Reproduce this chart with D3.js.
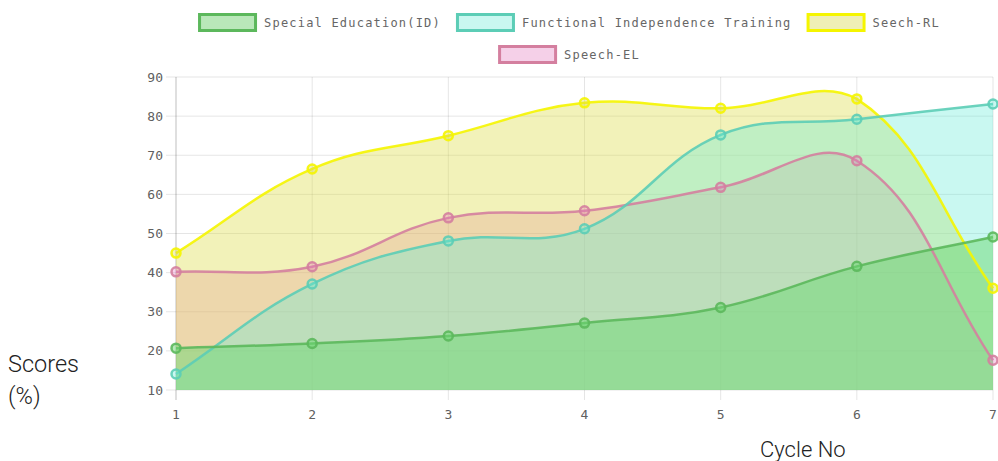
<!DOCTYPE html>
<html>
<head>
<meta charset="utf-8">
<script src="https://cdn.jsdelivr.net/npm/d3@7"></script>
<style>
  body { margin: 0; background: #fff; }
  svg { display: block; }
</style>
</head>
<body>
<div id="chart"></div>
<script>
var cycles = [1, 2, 3, 4, 5, 6, 7];
var yTicks = [10, 20, 30, 40, 50, 60, 70, 80, 90];

var specialEd = [20.7, 21.9, 23.8, 27.1, 31.1, 41.6, 49.1];
var functionalTraining = [14.1, 37.1, 48.1, 51.2, 75.2, 79.2, 83.1];
var speechRL = [45.0, 66.5, 75.0, 83.4, 82.0, 84.4, 36.0];
var speechEL = [40.2, 41.5, 54.0, 55.8, 61.8, 68.6, 17.6];

var seriesNames = ["Special Education(ID)", "Functional Independence Training", "Seech-RL", "Speech-EL"];
var seriesValues = [specialEd, functionalTraining, speechRL, speechEL];
var lineColors = ["#5cb85c", "#5ccdb6", "#f5f500", "#d47f9f"];
var fillColors = ["rgba(110,215,115,0.5)", "rgba(100,235,215,0.35)", "rgba(220,220,70,0.38)", "rgba(230,120,190,0.33)"];
var legendFills = ["#b9e8b9", "#c9f7f0", "#efefb5", "#f5d0e8"];

var width = 998, height = 461;
var plotLeft = 176, plotRight = 993, plotTop = 77, plotBottom = 390;

var svg = d3.select("#chart").append("svg")
  .attr("width", width)
  .attr("height", height);

var x = d3.scaleLinear().domain([1, 7]).range([plotLeft, plotRight]);
var y = d3.scaleLinear().domain([10, 90]).range([plotBottom, plotTop]);

// grid
svg.append("g")
  .selectAll("line")
  .data(yTicks)
  .join("line")
  .attr("x1", plotLeft - 10).attr("x2", plotRight)
  .attr("y1", function(d) { return y(d) }).attr("y2", function(d) { return y(d) })
  .attr("stroke", "rgba(0,0,0,0.1)");
svg.append("g")
  .selectAll("line")
  .data(cycles)
  .join("line")
  .attr("x1", function(d) { return x(d) }).attr("x2", function(d) { return x(d) })
  .attr("y1", plotTop).attr("y2", plotBottom + 10)
  .attr("stroke", function(d, i) { return i == 0 ? "rgba(0,0,0,0.25)" : "rgba(0,0,0,0.1)" });

// tick labels
svg.append("g")
  .selectAll("text")
  .data(yTicks)
  .join("text")
  .attr("x", plotLeft - 13)
  .attr("y", function(d) { return y(d) })
  .attr("dy", "0.35em")
  .attr("text-anchor", "end")
  .style("font", "13px 'DejaVu Sans Mono'")
  .style("fill", "#606060")
  .text(function(d) { return d });
svg.append("g")
  .selectAll("text")
  .data(cycles)
  .join("text")
  .attr("x", function(d) { return x(d) })
  .attr("y", plotBottom + 24)
  .attr("dy", "0.35em")
  .attr("text-anchor", "middle")
  .style("font", "13px 'DejaVu Sans Mono'")
  .style("fill", "#606060")
  .text(function(d) { return d });

// chart.js style spline control points (tension 0.4)
function controlPoints(pts) {
  var t = 0.4;
  return pts.map(function(p, i) {
    var prev = pts[i - 1] || p, next = pts[i + 1] || p;
    var d01 = Math.hypot(p[0] - prev[0], p[1] - prev[1]);
    var d12 = Math.hypot(next[0] - p[0], next[1] - p[1]);
    var s01 = d01 / (d01 + d12) || 0, s12 = d12 / (d01 + d12) || 0;
    var fa = t * s01, fb = t * s12;
    var c = {
      px: p[0] - fa * (next[0] - prev[0]), py: p[1] - fa * (next[1] - prev[1]),
      nx: p[0] + fb * (next[0] - prev[0]), ny: p[1] + fb * (next[1] - prev[1])
    };
    c.px = Math.max(plotLeft, Math.min(plotRight, c.px)); c.nx = Math.max(plotLeft, Math.min(plotRight, c.nx));
    c.py = Math.max(plotTop, Math.min(plotBottom, c.py)); c.ny = Math.max(plotTop, Math.min(plotBottom, c.ny));
    return c;
  });
}

function splinePath(values, closed) {
  var pts = values.map(function(v, i) { return [x(cycles[i]), y(v)] });
  var cps = controlPoints(pts);
  var path = d3.path();
  path.moveTo(pts[0][0], pts[0][1]);
  for (var i = 1; i < pts.length; i++) {
    path.bezierCurveTo(cps[i - 1].nx, cps[i - 1].ny, cps[i].px, cps[i].py, pts[i][0], pts[i][1]);
  }
  if (closed) {
    path.lineTo(pts[pts.length - 1][0], y(10));
    path.lineTo(pts[0][0], y(10));
    path.closePath();
  }
  return path.toString();
}

// fills first (last dataset at the back), then lines and points on top
var fillLayer = svg.append("g");
var lineLayer = svg.append("g");
for (var k = seriesValues.length - 1; k >= 0; k--) {
  fillLayer.append("path")
    .attr("d", splinePath(seriesValues[k], true))
    .attr("fill", fillColors[k]);
}
for (var k = seriesValues.length - 1; k >= 0; k--) {
  var g = lineLayer.append("g");
  g.append("path")
    .attr("d", splinePath(seriesValues[k], false))
    .attr("fill", "none")
    .attr("stroke", lineColors[k])
    .attr("stroke-opacity", 0.9)
    .attr("stroke-width", 2.5);
  g.selectAll("circle")
    .data(seriesValues[k])
    .join("circle")
    .attr("cx", function(d, i) { return x(cycles[i]) })
    .attr("cy", function(d) { return y(d) })
    .attr("r", 4.5)
    .attr("fill", fillColors[k])
    .attr("stroke", lineColors[k])
    .attr("stroke-opacity", 0.9)
    .attr("stroke-width", 2.5);
}

// legend
var legendRows = [[0, 1, 2], [3]];
var legendCenter = 569;
legendRows.forEach(function(row, r) {
  var rowG = svg.append("g");
  var cx = 0;
  row.forEach(function(k) {
    var item = rowG.append("g").attr("transform", "translate(" + cx + ",0)");
    item.append("rect")
      .attr("x", 1.5).attr("y", 14.5 + r * 32)
      .attr("width", 56).attr("height", 16)
      .attr("fill", legendFills[k])
      .attr("stroke", lineColors[k])
      .attr("stroke-width", 3);
    var label = item.append("text")
      .attr("x", 66).attr("y", 22.5 + r * 32)
      .attr("dy", "0.35em")
      .style("font", "12px 'DejaVu Sans Mono'")
      .style("letter-spacing", "1.2px")
      .style("fill", "#666")
      .text(seriesNames[k]);
    cx += 66 + label.node().getComputedTextLength() + 15;
  });
  var rowWidth = cx - 15;
  rowG.attr("transform", "translate(" + (legendCenter - rowWidth / 2) + ",0)");
});

// axis titles
svg.append("text")
  .attr("x", 8).attr("y", 372)
  .style("font", "300 23.5px Roboto")
  .style("fill", "#222")
  .text("Scores");
svg.append("text")
  .attr("x", 8).attr("y", 404)
  .style("font", "300 23.5px Roboto")
  .style("fill", "#222")
  .text("(%)");
svg.append("text")
  .attr("x", 760).attr("y", 457)
  .style("font", "300 22px Roboto")
  .style("fill", "#222")
  .text("Cycle No");
</script>
</body>
</html>
